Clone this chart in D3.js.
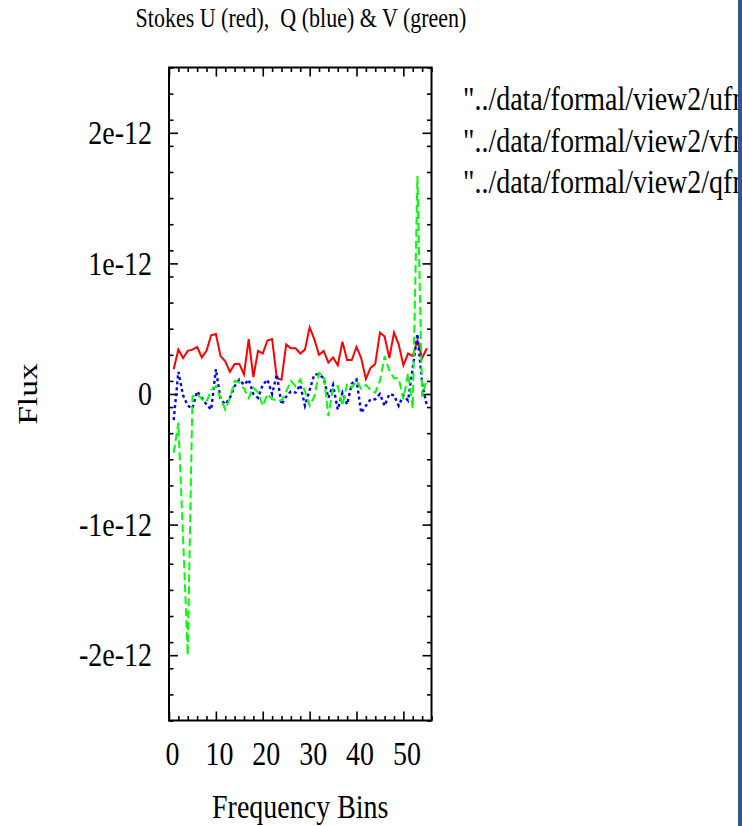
<!DOCTYPE html>
<html>
<head>
<meta charset="utf-8">
<script src="https://cdn.jsdelivr.net/npm/d3@7"></script>
<style>
  html, body { margin: 0; padding: 0; background: #fff; }
  svg { display: block; }
  text { font-family: "Liberation Serif", "Times New Roman", serif; fill: #000; }
</style>
</head>
<body>
<script>
// frequency bins 1..55, flux in units of 1e-12
const bins = d3.range(1, 56);
const stokesU = [0.19, 0.34, 0.275, 0.33, 0.34, 0.36, 0.28, 0.33, 0.45, 0.46,
  0.29, 0.25, 0.17, 0.23, 0.23, 0.15, 0.42, 0.13, 0.33, 0.31,
  0.41, 0.42, 0.12, 0.11, 0.38, 0.35, 0.35, 0.31, 0.34, 0.51,
  0.42, 0.30, 0.33, 0.24, 0.28, 0.22, 0.40, 0.26, 0.26, 0.36,
  0.275, 0.115, 0.2, 0.23, 0.47, 0.44, 0.275, 0.47, 0.38, 0.22,
  0.31, 0.29, 0.41, 0.275, 0.35];
const stokesQ = [-0.2, 0.17, -0.01, -0.09, -0.11, 0.02, -0.03, -0.08, -0.12, 0.19,
  -0.04, -0.08, -0.03, 0.06, 0.11, 0.07, 0.11, 0, -0.03, 0.07,
  0.11, 0, 0.15, -0.08, -0.02, 0.02, 0.01, 0.07, -0.09, 0.03,
  0.15, 0.15, 0.12, -0.03, 0.07, -0.12, 0.01, -0.08, 0.08, 0.11,
  -0.145, -0.09, -0.04, -0.04, 0, -0.09, 0, -0.01, -0.09, -0.01,
  -0.05, 0.2, 0.46, 0.08, -0.09];
const stokesV = [-0.45, -0.22, -1.1, -2.0, -0.02, 0.0, -0.04, -0.06, 0.03, 0.06,
  -0.03, -0.12, -0.03, 0.1, 0.09, 0.04, -0.03, 0.05, 0.01, -0.09,
  0.0, -0.04, -0.05, -0.05, 0.02, 0.1, 0.06, 0.11, 0.02, -0.09,
  -0.02, 0.16, 0.14, -0.17, 0.05, 0.06, -0.09, 0.08, 0.05, 0.1,
  0.04, 0.07, 0.03, 0.01, 0.1, 0.29, 0.18, 0.12, 0.12, -0.04,
  0.16, -0.11, 1.67, -0.02, 0.12];

const xTicks = [0, 10, 20, 30, 40, 50];
const yTicks = [-2e-12, -1e-12, 0, 1e-12, 2e-12];
const yTickLabels = ["-2e-12", "-1e-12", "0", "1e-12", "2e-12"];
const legendLabels = ['"../data/formal/view2/ufm', '"../data/formal/view2/vfm', '"../data/formal/view2/qfm'];

const width = 742, height = 826;
const plotLeft = 169, plotTop = 67.5, plotRight = 431.5, plotBottom = 720.5;
const stretch = 1.2;   // the original glyphs are taller than they are wide
const fs = 28 * stretch;
const serif = '"Liberation Serif", "Times New Roman", serif';

const svg = d3.select('body').append('svg')
  .attr('width', width)
  .attr('height', height);

const x = d3.scaleLinear().domain([0, 56]).range([plotLeft, plotRight]);
const y = d3.scaleLinear().domain([-2.5e-12, 2.5e-12]).range([plotBottom, plotTop]);

// squeeze (or stretch) text along its own direction
function fitLength(sel, f) {
  sel.each(function () {
    const len = this.getComputedTextLength();
    d3.select(this).attr('textLength', len * f).attr('lengthAdjust', 'spacingAndGlyphs');
  });
}

// ticks point inward on all four sides (gnuplot mirror style)
function ticksOnly(g) {
  g.select('.domain').remove();
  g.selectAll('.tick line').attr('stroke', '#000').attr('stroke-width', 1.6);
}

const minorX = d3.range(0, 57, 2).filter(v => v % 10 !== 0);
const minorY = d3.range(-25, 26, 2).filter(v => v % 10 !== 0).map(v => v * 1e-13);

svg.append('g').attr('transform', `translate(0,${plotBottom})`)
  .call(d3.axisBottom(x).tickValues(xTicks).tickSize(-9).tickPadding(21).tickFormat(d3.format('d')))
  .call(ticksOnly)
  .call(g => g.selectAll('text').attr('font-size', fs).attr('dx', 3).style('font-family', serif)
    .call(fitLength, 1 / stretch));
svg.append('g').attr('transform', `translate(0,${plotBottom})`)
  .call(d3.axisBottom(x).tickValues(minorX).tickSize(-4.5).tickFormat(''))
  .call(ticksOnly);
svg.append('g').attr('transform', `translate(0,${plotTop})`)
  .call(d3.axisTop(x).tickValues(xTicks).tickSize(-9).tickFormat(''))
  .call(ticksOnly);
svg.append('g').attr('transform', `translate(0,${plotTop})`)
  .call(d3.axisTop(x).tickValues(minorX).tickSize(-4.5).tickFormat(''))
  .call(ticksOnly);

svg.append('g').attr('transform', `translate(${plotLeft},0)`)
  .call(d3.axisLeft(y).tickValues(yTicks).tickSize(-9).tickPadding(17)
    .tickFormat((d, i) => yTickLabels[i]))
  .call(ticksOnly)
  .call(g => g.selectAll('text').attr('font-size', fs).style('font-family', serif)
    .call(fitLength, 1 / stretch));
svg.append('g').attr('transform', `translate(${plotLeft},0)`)
  .call(d3.axisLeft(y).tickValues(minorY).tickSize(-4.5).tickFormat(''))
  .call(ticksOnly);
svg.append('g').attr('transform', `translate(${plotRight},0)`)
  .call(d3.axisRight(y).tickValues(yTicks).tickSize(-9).tickFormat(''))
  .call(ticksOnly);
svg.append('g').attr('transform', `translate(${plotRight},0)`)
  .call(d3.axisRight(y).tickValues(minorY).tickSize(-4.5).tickFormat(''))
  .call(ticksOnly);

// the three Stokes series
const series = [
  { values: stokesU, color: '#ff0000', dash: null, width: 2 },
  { values: stokesQ, color: '#0000ff', dash: '3,3', width: 2.4 },
  { values: stokesV, color: '#00ff00', dash: '8,4', width: 2 }
];
const line = d3.line()
  .x(d => x(d[0]))
  .y(d => y(d[1] * 1e-12));

svg.append('defs').append('clipPath').attr('id', 'plotClip')
  .append('rect').attr('x', plotLeft).attr('y', plotTop)
  .attr('width', plotRight - plotLeft).attr('height', plotBottom - plotTop);

svg.append('g').attr('clip-path', 'url(#plotClip)')
  .selectAll('path')
  .data(series)
  .join('path')
  .attr('d', s => line(bins.map((b, i) => [b, s.values[i]])))
  .attr('fill', 'none')
  .attr('stroke', s => s.color)
  .attr('stroke-width', s => s.width)
  .attr('stroke-dasharray', s => s.dash)
  .attr('stroke-linejoin', 'miter');

// plot frame
svg.append('rect')
  .attr('x', plotLeft).attr('y', plotTop)
  .attr('width', plotRight - plotLeft).attr('height', plotBottom - plotTop)
  .attr('fill', 'none').attr('stroke', '#000').attr('stroke-width', 2);

// titles
svg.append('text')
  .attr('x', 301).attr('y', 27)
  .attr('text-anchor', 'middle')
  .attr('font-size', 22 * stretch)
  .style('white-space', 'pre')
  .text('Stokes U (red),  Q (blue) & V (green)')
  .call(fitLength, 1 / stretch);

svg.append('text')
  .attr('x', (plotLeft + plotRight) / 2).attr('y', 818)
  .attr('text-anchor', 'middle')
  .attr('font-size', fs)
  .text('Frequency Bins')
  .call(fitLength, 1 / stretch);

svg.append('text')
  .attr('transform', 'translate(37,394) rotate(-90)')
  .attr('text-anchor', 'middle')
  .attr('font-size', 28)
  .text('Flux')
  .call(fitLength, stretch);

// key (cut off at the right edge of the page, as in the original)
svg.append('defs').append('clipPath').attr('id', 'keyClip')
  .append('rect').attr('x', 440).attr('y', 70).attr('width', 298).attr('height', 140);

svg.append('g').attr('clip-path', 'url(#keyClip)')
  .selectAll('text')
  .data(legendLabels)
  .join('text')
  .attr('x', 463)
  .attr('y', (d, i) => 110 + i * 41.5)
  .attr('font-size', fs)
  .text(d => d)
  .call(fitLength, 1 / stretch);

// blue border strip along the right edge
svg.append('rect')
  .attr('x', 738).attr('y', 0)
  .attr('width', 4).attr('height', height)
  .attr('fill', '#2f5597');
</script>
</body>
</html>
